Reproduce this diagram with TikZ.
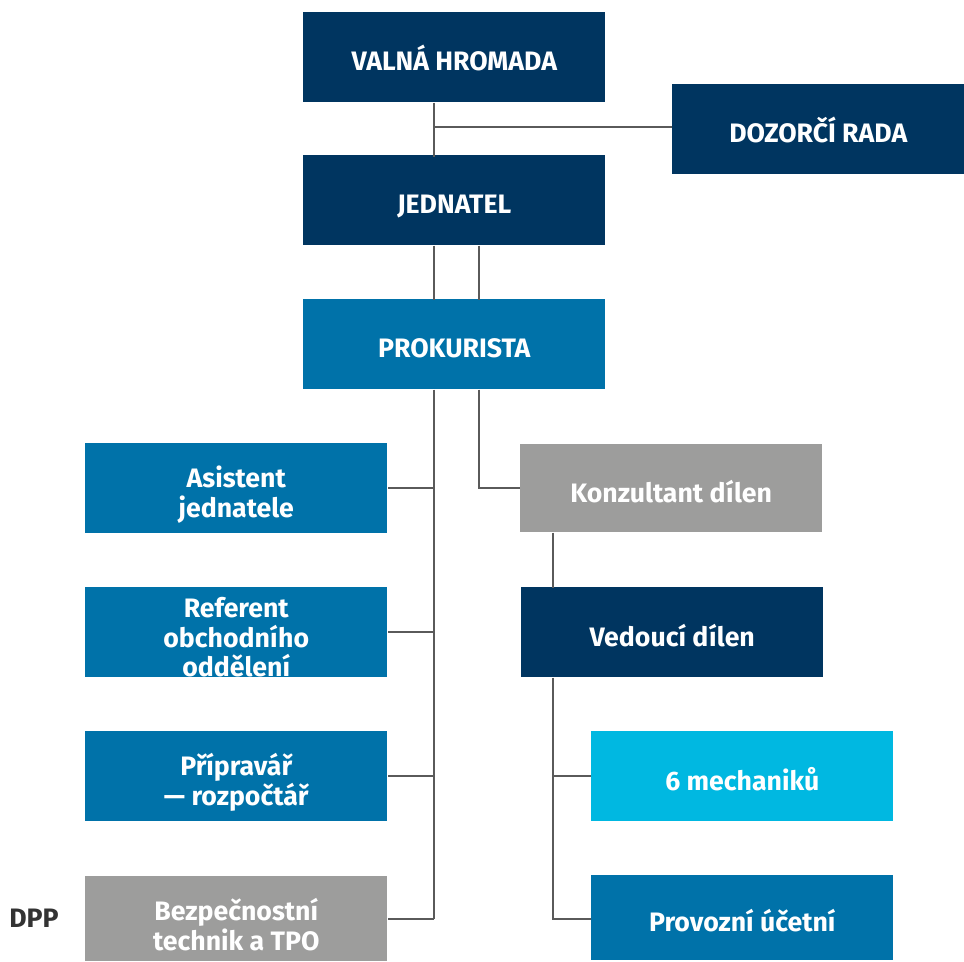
\documentclass[tikz,border=0pt]{standalone}
\usepackage{fontspec}
\setmainfont{Fira Sans}[UprightFont=* SemiBold, BoldFont=* Bold]
\definecolor{navy}{HTML}{003560}
\definecolor{midblue}{HTML}{0072A9}
\definecolor{graybox}{HTML}{9D9D9C}
\definecolor{cyanbox}{HTML}{00B8E1}
\definecolor{linec}{HTML}{5A5A5A}
\definecolor{dpptext}{HTML}{333333}
\tikzset{
  box/.style={minimum width=302*0.75pt, minimum height=90*0.75pt, inner sep=0pt, anchor=north west},
  navybox/.style={box, fill=navy},
  bluebox/.style={box, fill=midblue},
  greybox/.style={box, fill=graybox},
  cyanb/.style={box, fill=cyanbox},
  btext/.style={text=white, font=\fontsize{20}{22.3}\selectfont\bfseries, align=center, inner sep=0pt},
  stext/.style={text=white, font=\fontsize{20}{22.3}\selectfont\bfseries, inner sep=0pt, text height=13.8pt, text depth=0pt},
  conn/.style={draw=linec, line width=1.1pt},
}
\newcommand{\boxtext}[3]{\node[btext] (#1-t) at ([yshift=-#2*0.75pt]#1.center) {#3};}
\newcommand{\singletext}[3]{\node[stext] (#1-t) at ([yshift=-#2*0.75pt]#1.center) {#3};}
\begin{document}
\begin{tikzpicture}[x=0.75pt,y=-0.75pt]
\useasboundingbox (0,0) rectangle (964,961);
\node[navybox] (vh) at (303,12) {};
\node[navybox, minimum width=292*0.75pt] (dr) at (672,84) {};
\node[navybox] (jd) at (303,155) {};
\node[bluebox] (pk) at (303,299) {};
\node[bluebox] (as) at (85,443) {};
\node[bluebox] (rf) at (85,587) {};
\node[bluebox] (pr) at (85,731) {};
\node[greybox, minimum height=85*0.75pt] (bz) at (85,876) {};
\node[greybox, minimum height=88*0.75pt] (kd) at (520,444) {};
\node[navybox] (vd) at (521,587) {};
\node[cyanb] (me) at (591,731) {};
\node[bluebox, minimum height=85*0.75pt] (pu) at (591,875) {};

\singletext{vh}{4.5}{VALNÁ HROMADA}
\singletext{dr}{4.5}{DOZORČÍ RADA}
\singletext{jd}{4.5}{JEDNATEL}
\singletext{pk}{4.5}{PROKURISTA}
\boxtext{as}{6.5}{Asistent\\jednatele}
\boxtext{rf}{5}{Referent\\obchodního\\oddělení}
\boxtext{pr}{6}{Přípravář\\— rozpočtář}
\boxtext{bz}{5.5}{Bezpečnostní\\technik a TPO}
\singletext{kd}{5}{Konzultant dílen}
\singletext{vd}{5}{Vedoucí dílen}
\singletext{me}{5}{6 mechaniků}
\singletext{pu}{5}{Provozní účetní}
\node[stext, text=dpptext, anchor=center] (dpp) at (34,918) {DPP};

% coordinates
\coordinate (a1) at (434,127);
\coordinate (b1) at (434,488);
\coordinate (b2) at (434,632);
\coordinate (b3) at (434,776);
\coordinate (b4) at (434,919);
\coordinate (c1) at (479,488);
\coordinate (d3) at (553,776);
\coordinate (d4) at (553,919);

\draw[conn] (vh.south west) ++(131,0) -- ++(0,54);
\draw[conn] (a1) -- (a1 -| dr.west);
\draw[conn] (jd.south west) ++(131,0) -- ++(0,54);
\draw[conn] (jd.south west) ++(176,0) -- ++(0,54);
\draw[conn] (pk.south west) ++(131,0) -- (b4);
\draw[conn] (b1) -- (b1 -| as.east);
\draw[conn] (b2) -- (b2 -| rf.east);
\draw[conn] (b3) -- (b3 -| pr.east);
\draw[conn] (b4) -- (b4 -| bz.east);
\draw[conn] (pk.south west) ++(176,0) -- (c1) -- (c1 -| kd.west);
\draw[conn] (kd.south west) ++(33,0) -- ++(0,55);
\draw[conn] (vd.south west) ++(32,0) -- (d4) -- (d4 -| pu.west);
\draw[conn] (d3) -- (d3 -| me.west);
\end{tikzpicture}
\end{document}
